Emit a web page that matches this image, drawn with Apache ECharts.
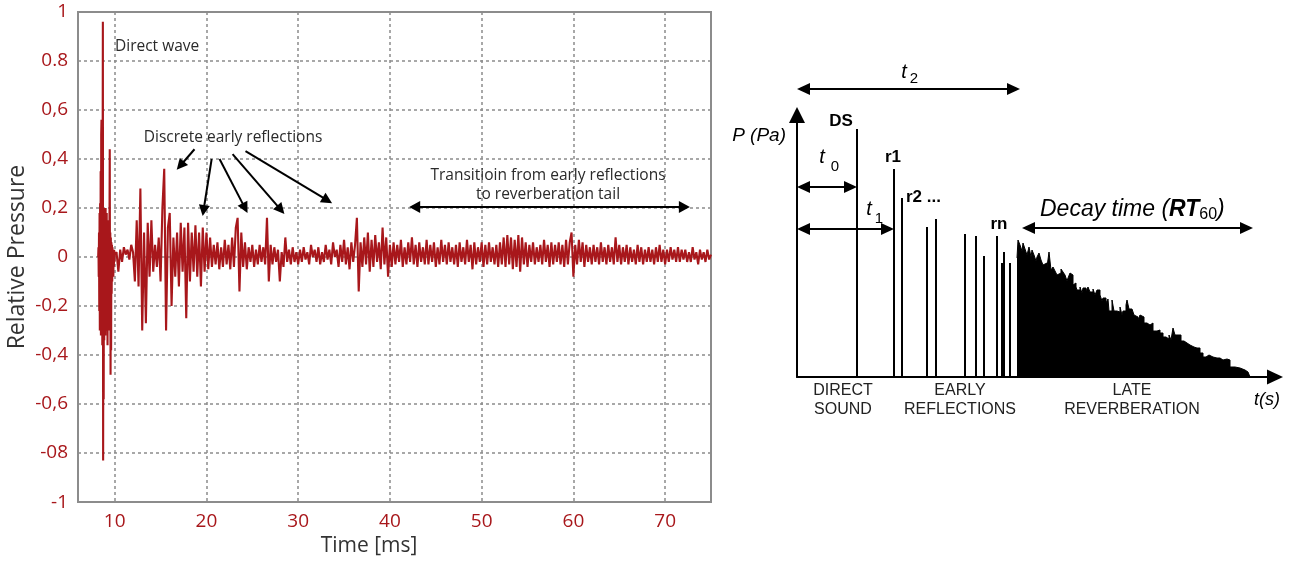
<!DOCTYPE html>
<html>
<head>
<meta charset="utf-8">
<script src="https://cdn.jsdelivr.net/npm/echarts@6/dist/echarts.min.js"></script>
<style>
  html, body { margin: 0; padding: 0; background: #fff; }
  #chart { width: 1297px; height: 562px; }
</style>
</head>
<body>
<div id="chart"></div>
<script>
// ---------- Left panel: measured impulse response (Relative Pressure vs Time [ms]) ----------
// Direct wave region, sampled every 0.03 ms from 8.2 ms
const directStart = 8.2;
const directStep = 0.03;
const directWave = [
  0.00, 0.04, -0.08, 0.10, -0.22, 0.18, -0.30, 0.22, -0.25, 0.35,
  -0.32, 0.50, 0.56, -0.30, 0.20, -0.36, 0.30, 0.96, -0.83, 0.18,
  -0.58, 0.20, -0.34, 0.19, -0.28, 0.16, -0.32, 0.20, -0.22, 0.14,
  -0.30, 0.18, -0.26, 0.12, -0.36, 0.10, -0.20, 0.15, -0.24, 0.08,
  -0.30, 0.12, 0.44, -0.18, 0.10, -0.48, 0.08, -0.38, 0.06, -0.15,
  0.05, -0.10, 0.04, -0.06, 0.03, -0.08, 0.02, -0.04, 0.03, -0.02,
  0.01
];
// Reflections and tail, sampled every 0.2 ms from 10.2 ms to 75 ms
const tailStart = 10.2;
const tailStep = 0.2;
const tailWave = [
  0.02, -0.06, 0.03, -0.02, 0.04, 0.01, 0.03, -0.01, 0.05, 0.02,
  -0.10, 0.15, -0.12, 0.28, -0.30, 0.10, -0.27, 0.14, -0.08, 0.15,
  -0.06, 0.05, -0.04, 0.08, -0.10, 0.20, 0.36, -0.30, 0.12, 0.18,
  -0.20, 0.08, -0.08, 0.10, -0.12, 0.14, -0.06, 0.12, -0.25, 0.14,
  -0.10, 0.10, -0.06, 0.13, -0.08, 0.10, -0.12, 0.12, -0.06, 0.10,
  -0.05, 0.08, -0.04, 0.05, -0.03, 0.06, -0.05, 0.04, -0.04, 0.07,
  -0.03, 0.05, -0.05, 0.08, -0.04, 0.12, 0.16, -0.14, 0.10, -0.04,
  0.06, -0.05, 0.04, -0.02, 0.05, -0.04, 0.03, -0.03, 0.05, -0.02,
  0.04, -0.03, 0.16, -0.10, 0.05, -0.03, 0.04, -0.02, 0.03, -0.10,
  0.02, -0.04, 0.08, -0.02, 0.03, -0.03, 0.04, -0.02, 0.02, -0.03,
  0.03, -0.02, 0.04, -0.01, 0.02, -0.03, 0.05, 0.00, 0.03, -0.02,
  0.04, -0.03, 0.02, -0.02, 0.05, -0.01, 0.03, -0.03, 0.06, 0.00,
  0.03, -0.04, 0.05, -0.02, 0.07, -0.03, 0.04, -0.05, 0.06, -0.02,
  0.05, 0.16, -0.14, 0.06, -0.04, 0.08, -0.03, 0.10, -0.06, 0.07,
  -0.04, 0.09, -0.02, 0.06, -0.05, 0.12, -0.03, 0.08, -0.08, 0.05,
  -0.04, 0.06, -0.03, 0.05, -0.02, 0.07, -0.04, 0.04, -0.03, 0.06,
  -0.02, 0.08, -0.03, 0.05, -0.04, 0.06, -0.02, 0.04, -0.03, 0.07,
  -0.03, 0.05, -0.02, 0.06, -0.04, 0.04, -0.03, 0.07, -0.02, 0.05,
  -0.03, 0.06, -0.02, 0.04, -0.03, 0.05, -0.04, 0.06, -0.02, 0.04,
  -0.03, 0.07, -0.02, 0.05, -0.05, 0.06, -0.03, 0.04, -0.02, 0.06,
  -0.04, 0.05, -0.03, 0.06, -0.02, 0.04, -0.03, 0.05, -0.04, 0.06,
  -0.03, 0.08, -0.04, 0.09, -0.03, 0.08, -0.05, 0.07, -0.04, 0.09,
  -0.06, 0.08, -0.03, 0.06, -0.04, 0.05, -0.02, 0.06, -0.03, 0.04,
  -0.02, 0.05, -0.03, 0.07, -0.02, 0.05, -0.04, 0.06, -0.03, 0.05,
  -0.02, 0.06, -0.03, 0.05, -0.04, 0.07, -0.03, 0.06, 0.10, -0.08,
  0.05, -0.03, 0.07, -0.02, 0.06, -0.04, 0.05, -0.02, 0.04, -0.03,
  0.05, -0.02, 0.04, -0.03, 0.06, -0.02, 0.04, -0.03, 0.05, -0.02,
  0.04, -0.03, 0.08, -0.02, 0.05, -0.03, 0.04, -0.02, 0.05, -0.03,
  0.04, -0.02, 0.03, -0.03, 0.05, -0.02, 0.04, -0.03, 0.03, -0.02,
  0.04, -0.02, 0.03, -0.03, 0.04, -0.02, 0.05, -0.02, 0.03, -0.03,
  0.03, -0.02, 0.04, -0.01, 0.03, -0.02, 0.04, -0.02, 0.03, -0.01,
  0.03, -0.02, 0.02, -0.02, 0.04, -0.01, 0.02, -0.03, 0.03, -0.01,
  0.02, -0.02, 0.03, -0.01, 0.01
];
const xTickValues = [10, 20, 30, 40, 50, 60, 70];
const yTickLabels = ['-1', '-08', '-0,6', '-0,4', '-0,2', '0', '0,2', '0,4', '0,6', '0.8', '1'];

// ---------- Right panel: schematic impulse response P(Pa) vs t(s), arbitrary units ----------
const directSound = [[30, 124]];
const reflectionTimes  = [48.5, 52.5, 65, 69.5, 84, 89.5, 93.5, 100, 102.5, 103.5, 106.5];
const reflectionLevels = [104, 89.5, 75, 79, 71.5, 70.5, 60.5, 70.5, 57, 62.5, 57];
const reverbTimes = [
  110, 110.5, 111.5, 112.5, 113, 114, 115, 116, 117, 117.5,
  118.5, 119.5, 120, 121, 122, 123, 124, 125, 126, 127,
  128, 129, 130, 131, 132, 133, 134, 135, 135.5, 136.5,
  137, 138, 138.5, 139.5, 140, 141.5, 142.5, 143, 144.5, 145.5,
  146.5, 148, 149, 150, 151.5, 152.5, 153, 154.5, 155.5, 156,
  157.5, 158.5, 160, 161.5, 162.5, 163, 164.5, 165, 166, 167.5,
  168.5, 169, 170.5, 171.5, 172, 173.5, 175, 176.5, 177.5, 178,
  180, 181.5, 183, 184.5, 186, 187, 188, 189, 190.5, 192,
  193.5, 195, 196.5, 198.5, 200, 201.5, 203, 204.5, 206, 208,
  210, 211.5, 213, 215, 216.5, 219, 221.5, 224, 225.5, 226.5
];
const reverbLevels = [
  59.5, 68.5, 66, 63, 67, 64, 61, 65, 60, 63.5,
  61, 58, 60, 62, 58.5, 56, 57, 55, 62.5, 53.5,
  55, 53, 51, 52, 54, 52.5, 51, 48, 49.5, 52,
  51, 46, 47, 45, 43.5, 45, 42, 44.5, 43, 45,
  42.5, 44, 41, 43.5, 41, 38, 39.5, 37, 39, 33,
  38.5, 33, 32.5, 35, 31, 33, 36, 38.5, 34, 33.5,
  31, 30, 28.5, 31, 30, 27, 26, 25, 27, 23,
  23.5, 22, 20, 19, 21, 18.5, 24.5, 21, 21, 18,
  17, 16, 15, 14.5, 14.5, 12, 10, 11, 10, 9.5,
  9.5, 8.5, 9, 8.5, 5, 4.5, 3.5, 2.5, 2, 0
];

// ---------- Build series data ----------
const responsePoints = [];
directWave.forEach((v, i) => responsePoints.push([+(directStart + i * directStep).toFixed(3), v]));
tailWave.forEach((v, i) => responsePoints.push([+(tailStart + i * tailStep).toFixed(2), v]));
const reflectionPoints = directSound.concat(reflectionTimes.map((t, i) => [t, reflectionLevels[i]]));
const reverbPoints = reverbTimes.map((t, i) => [t, reverbLevels[i]]);

const RED = '#a8171b';
const GRID_GRAY = '#8c8c8c';
const HUMANIST = '"Open Sans", Lato, sans-serif';
const ARIAL = '"Liberation Sans", Arial, sans-serif';

const chart = echarts.init(document.getElementById('chart'));

const hiddenAxisParts = {
  axisTick: { show: false },
  axisLabel: { show: false },
  splitLine: { show: false }
};

chart.setOption({
  animation: false,
  backgroundColor: '#ffffff',
  grid: [
    { left: 78, right: 586, top: 12, bottom: 50, show: true, borderColor: GRID_GRAY, borderWidth: 2 },
    { left: 797, right: 22, top: 115, bottom: 185 }
  ],
  xAxis: [
    {
      gridIndex: 0, type: 'value', min: 6, max: 75,
      axisLine: { show: false },
      axisTick: { show: false, customValues: xTickValues },
      axisLabel: { customValues: xTickValues, color: RED, fontFamily: HUMANIST, fontSize: 19, margin: 10 },
      splitLine: { show: true, lineStyle: { type: [3, 3], color: GRID_GRAY, width: 1.5 } },
      name: 'Time [ms]', nameLocation: 'middle', nameGap: 28,
      nameTextStyle: { fontFamily: HUMANIST, fontSize: 21, color: '#333', padding: [0, 51, 0, 0] }
    },
    Object.assign({
      gridIndex: 1, type: 'value', min: 0, max: 239,
      axisLine: { show: true, symbol: ['none', 'triangle'], symbolSize: [15, 16], lineStyle: { color: '#000', width: 2 } }
    }, hiddenAxisParts)
  ],
  yAxis: [
    {
      gridIndex: 0, type: 'value', min: -1, max: 1, interval: 0.2,
      axisLine: { show: false },
      axisTick: { show: false },
      axisLabel: {
        formatter: v => yTickLabels[Math.round((v + 1) / 0.2)],
        color: RED, fontFamily: HUMANIST, fontSize: 19, margin: 10
      },
      splitLine: { show: true, lineStyle: { type: [3, 3], color: GRID_GRAY, width: 1.5 } },
      name: 'Relative Pressure', nameLocation: 'middle', nameGap: 49,
      nameTextStyle: { fontFamily: HUMANIST, fontSize: 23, color: '#333' }
    },
    Object.assign({
      gridIndex: 1, type: 'value', min: 0, max: 131,
      axisLine: { show: true, symbol: ['none', 'triangle'], symbolSize: [16, 16], lineStyle: { color: '#000', width: 2 } }
    }, hiddenAxisParts)
  ],
  series: [
    {
      name: 'Relative Pressure', type: 'line', xAxisIndex: 0, yAxisIndex: 0,
      data: responsePoints, showSymbol: false, symbol: 'none',
      lineStyle: { color: RED, width: 2.1 }, z: 3
    },
    {
      name: 'Direct sound and early reflections', type: 'bar', xAxisIndex: 1, yAxisIndex: 1,
      data: reflectionPoints, barWidth: 2, itemStyle: { color: '#000' }
    },
    {
      name: 'Late reverberation', type: 'line', xAxisIndex: 1, yAxisIndex: 1,
      data: reverbPoints, step: 'end', showSymbol: false, symbol: 'none',
      lineStyle: { color: '#000', width: 1 }, areaStyle: { color: '#000', opacity: 1 }
    }
  ]
});

// ---------- Annotations ----------
const L = p => chart.convertToPixel({ gridIndex: 0 }, p);
const R = p => chart.convertToPixel({ gridIndex: 1 }, p);

function arrow(a, b, both, len, half, width) {
  const dx = b[0] - a[0], dy = b[1] - a[1];
  const d = Math.hypot(dx, dy), ux = dx / d, uy = dy / d, nx = -uy, ny = ux;
  const head = (t, sx, sy) => ({
    type: 'polygon', z: 100, silent: true,
    shape: { points: [
      [t[0], t[1]],
      [t[0] - sx * len + nx * half, t[1] - sy * len + ny * half],
      [t[0] - sx * len - nx * half, t[1] - sy * len - ny * half]
    ] },
    style: { fill: '#000' }
  });
  const s = both ? [a[0] + ux * len * 0.7, a[1] + uy * len * 0.7] : a;
  const e = [b[0] - ux * len * 0.7, b[1] - uy * len * 0.7];
  const els = [{
    type: 'line', z: 100, silent: true,
    shape: { x1: s[0], y1: s[1], x2: e[0], y2: e[1] },
    style: { stroke: '#000', lineWidth: width }
  }, head(b, ux, uy)];
  if (both) els.push(head(a, -ux, -uy));
  return els;
}

function label(x, y, text, st) {
  return {
    type: 'text', x, y, z: 100, silent: true,
    style: Object.assign({ text, align: 'center', verticalAlign: 'middle', fill: '#000' }, st)
  };
}

const leftText = { fontFamily: HUMANIST, fontSize: 15.5, fill: '#2a2a2a' };
const schemBold = { fontFamily: ARIAL, fontSize: 17, fontWeight: 'bold', fill: '#000' };
const schemItalic = { fontFamily: ARIAL, fontSize: 20, fontStyle: 'italic', fill: '#000' };
const schemSub = { fontFamily: ARIAL, fontSize: 15, fill: '#000' };
const schemCaps = { fontFamily: ARIAL, fontSize: 16, fill: '#222', verticalAlign: 'top', lineHeight: 19 };

const graphics = [].concat(
  // left panel labels
  label(115, 47, 'Direct wave', Object.assign({}, leftText, { align: 'left' })),
  label(233, 138, 'Discrete early reflections', leftText),
  label(548, 176, 'Transitioin from early reflections', leftText),
  label(548, 195, 'to reverberation tail', leftText),
  // left panel arrows (data coordinates: time ms, relative pressure)
  arrow(L([18.7, 0.44]), L([16.76, 0.356]), false, 11, 5.5, 2),
  arrow(L([20.57, 0.40]), L([19.59, 0.168]), false, 11, 5.5, 2),
  arrow(L([21.43, 0.40]), L([24.48, 0.18]), false, 11, 5.5, 2),
  arrow(L([22.85, 0.42]), L([28.5, 0.176]), false, 11, 5.5, 2),
  arrow(L([24.26, 0.432]), L([33.7, 0.22]), false, 11, 5.5, 2),
  arrow(L([42.1, 0.204]), L([72.7, 0.204]), true, 11, 6, 2),
  // right panel time spans
  arrow(R([0, 144]), R([111.5, 144]), true, 13, 6, 2),
  arrow(R([0, 95]), R([directSound[0][0], 95]), true, 13, 6, 2),
  arrow(R([0, 74]), R([reflectionTimes[0], 74]), true, 13, 6, 2),
  arrow(R([112.5, 74.5]), R([228, 74.5]), true, 13, 6, 2),
  // right panel labels
  label(786, 136, 'P (Pa)', Object.assign({}, schemItalic, { fontSize: 19, align: 'right' })),
  label(841, 121, 'DS', schemBold),
  label(893, 157, 'r1', schemBold),
  label(906, 197, 'r2 ...', Object.assign({}, schemBold, { align: 'left' })),
  label(999, 224, 'rn', schemBold),
  label(904, 72, 't', schemItalic), label(914, 79, '2', schemSub),
  label(822, 157, 't', schemItalic), label(835, 167, '0', schemSub),
  label(869, 209, 't', schemItalic), label(879, 219, '1', schemSub),
  {
    type: 'text', x: 1040, y: 210, z: 100, silent: true,
    style: {
      text: '{n|Decay time (}{b|RT}{s|60}{n|)}',
      align: 'left', verticalAlign: 'middle', fill: '#000',
      rich: {
        n: { fontFamily: ARIAL, fontSize: 23, fontStyle: 'italic', verticalAlign: 'middle' },
        b: { fontFamily: ARIAL, fontSize: 23, fontStyle: 'italic', fontWeight: 'bold', verticalAlign: 'middle' },
        s: { fontFamily: ARIAL, fontSize: 16, verticalAlign: 'middle', padding: [10, 0, 0, 0] }
      }
    }
  },
  label(843, 381, 'DIRECT\nSOUND', schemCaps),
  label(960, 381, 'EARLY\nREFLECTIONS', schemCaps),
  label(1132, 381, 'LATE\nREVERBERATION', schemCaps),
  label(1267, 400, 't(s)', Object.assign({}, schemItalic, { fontSize: 18 }))
);

chart.setOption({ graphic: graphics });
</script>
</body>
</html>
